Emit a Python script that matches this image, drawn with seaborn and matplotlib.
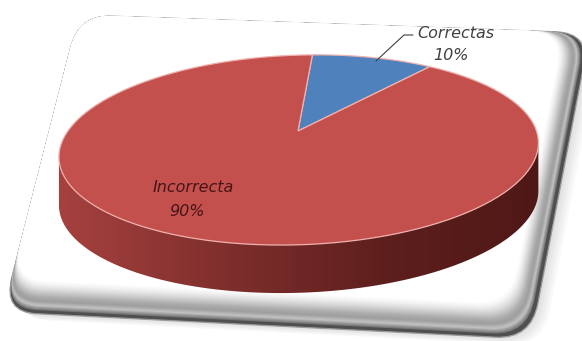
import numpy as np
import matplotlib
matplotlib.use("Agg")
import matplotlib.pyplot as plt
import seaborn as sns
from matplotlib import transforms as mtransforms
from matplotlib.path import Path
from matplotlib.patches import FancyBboxPatch, Polygon
from matplotlib.colors import LinearSegmentedColormap

# ---------------- data ----------------
categories = ["Correctas", "Incorrecta"]
values = [10, 90]
slice_colors = ["#4F81BD", "#C4504E"]
label_colors = ["#404040", "#451515"]

sns.set_theme(style="white")
plt.rcParams['font.family'] = ['DejaVu Sans']


class Homography(mtransforms.Transform):
    input_dims = 2
    output_dims = 2
    is_separable = False
    has_inverse = False

    def __init__(self, H):
        super().__init__()
        self.H = np.asarray(H, float)

    def transform_non_affine(self, values):
        v = np.atleast_2d(np.asarray(values, float))
        p = v @ self.H[:, :2].T + self.H[:, 2]
        return p[:, :2] / p[:, 2:3]

    def transform_path_non_affine(self, path):
        s = 400.0
        polys = path.to_polygons(transform=mtransforms.Affine2D().scale(s),
                                 closed_only=True)
        verts, codes = [], []
        for poly in polys:
            pts = self.transform_non_affine(np.asarray(poly) / s)
            verts.extend(pts)
            codes += [Path.MOVETO] + [Path.LINETO] * (len(pts) - 1)
        if not verts:
            return Path(np.zeros((1, 2)), [Path.MOVETO])
        return Path(np.array(verts), codes)


def pie_h(cx, cy, R, r, k, tilt):
    H = np.array([[R, cx * k, cx], [0, cy * k - r, cy], [0, k, 1.0]])
    a = np.deg2rad(tilt)
    c, s = np.cos(a), np.sin(a)
    T1 = np.array([[1, 0, -cx], [0, 1, -cy], [0, 0, 1.0]])
    Rm = np.array([[c, -s, 0], [s, c, 0], [0, 0, 1.0]])
    T2 = np.array([[1, 0, cx], [0, 1, cy], [0, 0, 1.0]])
    return T2 @ Rm @ T1 @ H


def quad_h(src, dst):
    A, b = [], []
    for (x, y), (X, Y) in zip(src, dst):
        A.append([x, y, 1, 0, 0, 0, -X * x, -X * y]); b.append(X)
        A.append([0, 0, 0, x, y, 1, -Y * x, -Y * y]); b.append(Y)
    h = np.linalg.solve(np.array(A, float), np.array(b, float))
    return np.array([[h[0], h[1], h[2]], [h[3], h[4], h[5]], [h[6], h[7], 1.0]])


def convex_hull(pts):
    pts = sorted(map(tuple, pts))
    def cross(o, a, b):
        return (a[0]-o[0])*(b[1]-o[1]) - (a[1]-o[1])*(b[0]-o[0])
    lower, upper = [], []
    for p in pts:
        while len(lower) >= 2 and cross(lower[-2], lower[-1], p) <= 0:
            lower.pop()
        lower.append(p)
    for p in reversed(pts):
        while len(upper) >= 2 and cross(upper[-2], upper[-1], p) <= 0:
            upper.pop()
        upper.append(p)
    return np.array(lower[:-1] + upper[:-1])


W, Hh = 582, 341
fig = plt.figure(figsize=(W / 100, Hh / 100), dpi=100)
fig.patch.set_facecolor("white")
ax = fig.add_axes([0, 0, 1, 1])

# ---------------- frame (perspective rounded box) ----------------
Hf = Homography(quad_h([(0, 0), (1, 0), (1, 1), (0, 1)],
                       [(79, 15), (590, 33), (531, 339), (3, 312)]))
tf = Hf + ax.transData


def rbox(x0, y0, w, h, **kw):
    p = FancyBboxPatch((x0, y0), w, h,
                       boxstyle="round,pad=0,rounding_size=0.065",
                       mutation_aspect=1.73, transform=tf, **kw)
    ax.add_patch(p)
    return p


for j in range(1, 6):
    rbox(0.005 * j, 0.004 * j, 1, 1, fc="#000000", alpha=0.025, ec="none", zorder=0.1)
rbox(0, 0, 1, 1, fc="#4f4f4f", ec="#9a9a9a", lw=0.9, zorder=0.5)
bevel = sns.blend_palette(["#777777", "#c2c2c2", "#9e9e9e", "#ababab", "#c6c6c6",
                           "#dedede", "#f2f2f2", "#ffffff"], n_colors=28)
for i, col in enumerate(bevel):
    f = (i + 1) / len(bevel)
    rbox(0, 0, 1 - 0.006 - 0.044 * f, 1 - 0.008 - 0.098 * f, fc=col, ec="none",
         zorder=0.6 + i * 0.01)

# ---------------- pie side (extrusion) ----------------
Hp = Homography(pie_h(cx=298, cy=131, R=235, r=91, k=0.2, tilt=-2.0))
thick = 48
th = np.linspace(0, 2 * np.pi, 720)
top_pts = Hp.transform_non_affine(np.column_stack([np.cos(th), np.sin(th)]))
hull = convex_hull(np.vstack([top_pts, top_pts + [0, thick]]))
side_poly = Polygon(hull, closed=True, transform=ax.transData, fc="none", ec="none")
ax.add_patch(side_poly)
side_cmap = LinearSegmentedColormap.from_list(
    "side", [(0, "#a8423f"), (0.37, "#7d2e2c"), (0.67, "#5e1f1d"), (1, "#4e1816")])
img = ax.imshow(np.linspace(0, 1, 256)[None, :], extent=(50, 545, 305, 100),
                aspect="auto", cmap=side_cmap, zorder=2, interpolation="bilinear")
img.set_clip_path(side_poly)

# ---------------- pie top ----------------
wedges, _ = ax.pie(values, colors=slice_colors, startangle=85, counterclock=False,
                   wedgeprops=dict(edgecolor="#f0b2ae", linewidth=0.9))
for w in wedges:
    w.set_transform(Hp + ax.transData)
    w.set_zorder(3)

# ---------------- labels ----------------
total = sum(values)
pcts = [f"{round(v / total * 100)}%" for v in values]
ax.plot([376, 404, 413], [61, 35, 35], color="#404040", lw=0.8, zorder=5)
ax.text(456, 33, categories[0], ha="center", va="center", style="italic",
        color=label_colors[0], fontsize=11.5, zorder=6)
ax.text(451, 55, pcts[0], ha="center", va="center", style="italic",
        color=label_colors[0], fontsize=11.5, zorder=6)
ax.text(193, 188, categories[1], ha="center", va="center", style="italic",
        color=label_colors[1], fontsize=11.5, zorder=6)
ax.text(187, 212, pcts[1], ha="center", va="center", style="italic",
        color=label_colors[1], fontsize=11.5, zorder=6)

ax.set_xlim(0, W)
ax.set_ylim(Hh, 0)
ax.set_aspect("auto")
ax.axis("off")
fig.savefig("out.png", dpi=100, facecolor="white")
